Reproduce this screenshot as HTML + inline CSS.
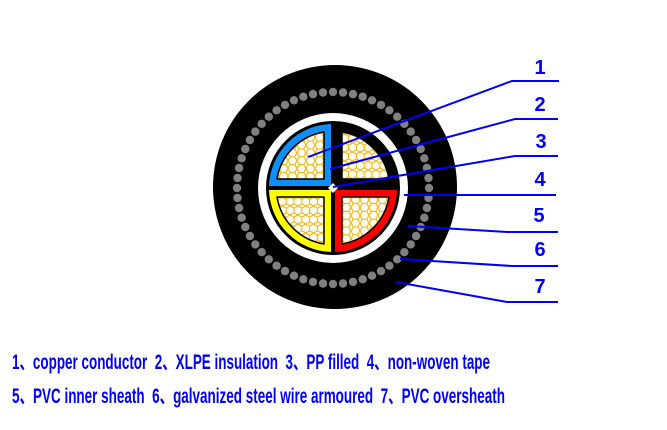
<!DOCTYPE html>
<html><head><meta charset="utf-8"><style>
html,body{margin:0;padding:0;background:#fff;width:667px;height:430px;overflow:hidden}
</style></head><body>
<svg width="667" height="430" viewBox="0 0 667 430" xmlns="http://www.w3.org/2000/svg">
<defs>
<pattern id="hex" width="9" height="7.8" patternUnits="userSpaceOnUse">
<rect width="9" height="7.8" fill="#fffdf2"/>
<path d="M0,3.9 L2.25,0 L6.75,0 L9,3.9 L6.75,7.8 L2.25,7.8 Z" fill="none" stroke="#f5b000" stroke-width="1"/>
</pattern>
<g id="bq" fill="#808080">
<circle cx="96" cy="0" r="4.2"/><circle cx="95.5" cy="10" r="4.2"/><circle cx="93.9" cy="20" r="4.2"/>
<circle cx="91.3" cy="29.7" r="4.2"/><circle cx="87.7" cy="39" r="4.2"/><circle cx="83.1" cy="48" r="4.2"/>
<circle cx="77.7" cy="56.4" r="4.2"/><circle cx="71.3" cy="64.2" r="4.2"/><circle cx="64.2" cy="71.3" r="4.2"/>
<circle cx="56.4" cy="77.7" r="4.2"/><circle cx="48" cy="83.1" r="4.2"/><circle cx="39" cy="87.7" r="4.2"/>
<circle cx="29.7" cy="91.3" r="4.2"/><circle cx="20" cy="93.9" r="4.2"/><circle cx="10" cy="95.5" r="4.2"/>
</g>
</defs>
<circle cx="335" cy="187" r="122" fill="#000"/>
<g transform="translate(333,188)">
<use href="#bq"/>
<use href="#bq" transform="rotate(90)"/>
<use href="#bq" transform="rotate(180)"/>
<use href="#bq" transform="rotate(270)"/>
</g>
<circle cx="333" cy="188" r="75" fill="#fff"/>
<circle cx="333" cy="188" r="67" fill="#000"/>
<g transform="translate(333,188)">
<g>
<path d="M-2,-2 L-2,-64 A64 64 0 0 0 -64,-2 Z" fill="#118ef5"/>
<path d="M-9,-9 L-56,-9 A57 57 0 0 1 -9,-56 Z" fill="url(#hex)" stroke="#000" stroke-width="1.5" stroke-linejoin="round"/>
</g>
<g transform="rotate(90)">
<path d="M-2,-2 L-2,-64 A64 64 0 0 0 -64,-2 Z" fill="#000"/>
<path d="M-9,-9 L-56,-9 A57 57 0 0 1 -9,-56 Z" fill="url(#hex)" stroke="#000" stroke-width="1.5" stroke-linejoin="round"/>
</g>
<g transform="rotate(180)">
<path d="M-2,-2 L-2,-64 A64 64 0 0 0 -64,-2 Z" fill="#ff0000"/>
<path d="M-9,-9 L-56,-9 A57 57 0 0 1 -9,-56 Z" fill="url(#hex)" stroke="#000" stroke-width="1.5" stroke-linejoin="round"/>
</g>
<g transform="rotate(270)">
<path d="M-2,-2 L-2,-64 A64 64 0 0 0 -64,-2 Z" fill="#ffff00"/>
<path d="M-9,-9 L-56,-9 A57 57 0 0 1 -9,-56 Z" fill="url(#hex)" stroke="#000" stroke-width="1.5" stroke-linejoin="round"/>
</g>
<path d="M0,-5 L5,0 L0,5 L-5,0 Z" fill="#fff"/>
</g>
<g stroke="#0000ff" stroke-width="2" fill="none">
<polyline points="308,157 512,81 559,81"/>
<polyline points="330,169 515,119 558,119"/>
<polyline points="333,187 515,156 558,156"/>
<polyline points="404,195 556,195"/>
<polyline points="408,226 507,232 558,232"/>
<polyline points="400,259 512,266 558,266"/>
<polyline points="396,282 507,302 558,302"/>
</g>
<g fill="#0000ff" font-family="Liberation Sans, sans-serif" font-weight="bold" font-size="20" text-anchor="middle">
<text x="540" y="74">1</text>
<text x="540" y="111">2</text>
<text x="541" y="148">3</text>
<text x="540" y="186">4</text>
<text x="539" y="222">5</text>
<text x="540" y="256">6</text>
<text x="540" y="293">7</text>
</g>
<g fill="#0000ff" font-family="'Liberation Sans','Noto Sans CJK SC',sans-serif" font-weight="bold" font-size="21" xml:space="preserve">
<text x="12" y="369" textLength="478" lengthAdjust="spacingAndGlyphs">1、copper conductor&#160; 2、XLPE insulation&#160; 3、PP filled&#160; 4、non-woven tape</text>
<text x="12" y="403" textLength="493" lengthAdjust="spacingAndGlyphs">5、PVC inner sheath&#160; 6、galvanized steel wire armoured&#160; 7、PVC oversheath</text>
</g>
</svg>
</body></html>
